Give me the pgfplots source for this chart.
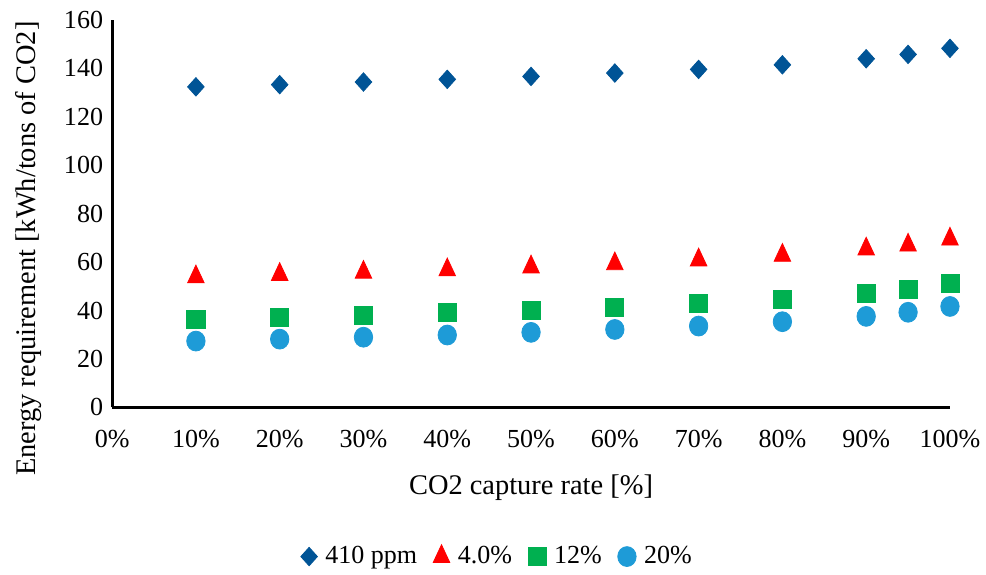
\documentclass[border=0pt]{standalone}
\usepackage{fontspec}
\setmainfont{Liberation Serif}
\usepackage{pgfplots}
\pgfplotsset{compat=1.18}
\definecolor{cA}{RGB}{0,84,150}
\definecolor{cB}{RGB}{255,0,0}
\definecolor{cC}{RGB}{0,176,80}
\definecolor{cD}{RGB}{30,155,215}
\begin{document}
\begin{tikzpicture}
\useasboundingbox (-56pt,-83.5pt) rectangle (436.5pt,203.5pt);
\begin{axis}[
  at={(0,0)}, anchor=south west,
  scale only axis, width=418.5pt, height=193.5pt,
  xmin=0, xmax=100, ymin=0, ymax=160,
  axis x line=bottom, axis y line=left,
  axis line style={line width=1.4pt, -},
  xtick={0,10,20,30,40,50,60,70,80,90,100},
  xticklabels={0\%,10\%,20\%,30\%,40\%,50\%,60\%,70\%,80\%,90\%,100\%},
  ytick={0,20,...,160},
  major tick length=0pt,
  tick label style={font=\fontsize{13}{15}\selectfont},
  xticklabel style={yshift=-8pt},
  yticklabel style={xshift=-1pt},
  /pgf/number format/assume math mode=true,
  xlabel={CO2 capture rate [\%]},
  ylabel={Energy requirement [kWh/tons of CO2]},
  label style={font=\fontsize{14.2}{16}\selectfont},
  xlabel style={at={(axis description cs:0.5,-0.207)}, anchor=center},
  ylabel style={at={(axis description cs:-0.1,0.41)}, anchor=center},
  legend columns=4,
  legend style={draw=none, font=\fontsize{13}{15}\selectfont,
    at={(0.461,-0.385)}, anchor=center,
    /tikz/every odd column/.append style={column sep=2pt},
    /tikz/every even column/.append style={column sep=6pt}},
  legend cell align=left,
  clip=false,
]
\addplot[only marks, mark=diamond*, mark size=4.6pt, mark options={xscale=1.2}, color=cA, fill=cA] coordinates {
(10,132.4) (20,133.3) (30,134.4) (40,135.5) (50,136.7) (60,138.1) (70,139.6) (80,141.5) (90,144.0) (95,145.8) (100,148.3)};
\addlegendentry{410 ppm}
\addplot[only marks, mark=triangle*, mark size=5.6pt, mark options={xscale=0.85, yscale=1.05}, color=cB, fill=cB] coordinates {
(10,53.9) (20,54.9) (30,55.8) (40,56.8) (50,58.0) (60,59.3) (70,60.9) (80,62.8) (90,65.4) (95,67.0) (100,69.5)};
\addlegendentry{4.0\%}
\addplot[only marks, mark=square*, mark size=4.5pt, color=cC, fill=cC] coordinates {
(10,36.2) (20,37.0) (30,37.9) (40,39.1) (50,40.0) (60,41.2) (70,42.8) (80,44.5) (90,47.0) (95,48.6) (100,51.1)};
\addlegendentry{12\%}
\addplot[only marks, mark=*, mark size=4.6pt, mark options={yscale=1.08}, color=cD, fill=cD] coordinates {
(10,27.4) (20,28.2) (30,29.0) (40,29.9) (50,31.0) (60,32.2) (70,33.6) (80,35.4) (90,37.6) (95,39.3) (100,41.7)};
\addlegendentry{20\%}
\end{axis}
\end{tikzpicture}
\end{document}
